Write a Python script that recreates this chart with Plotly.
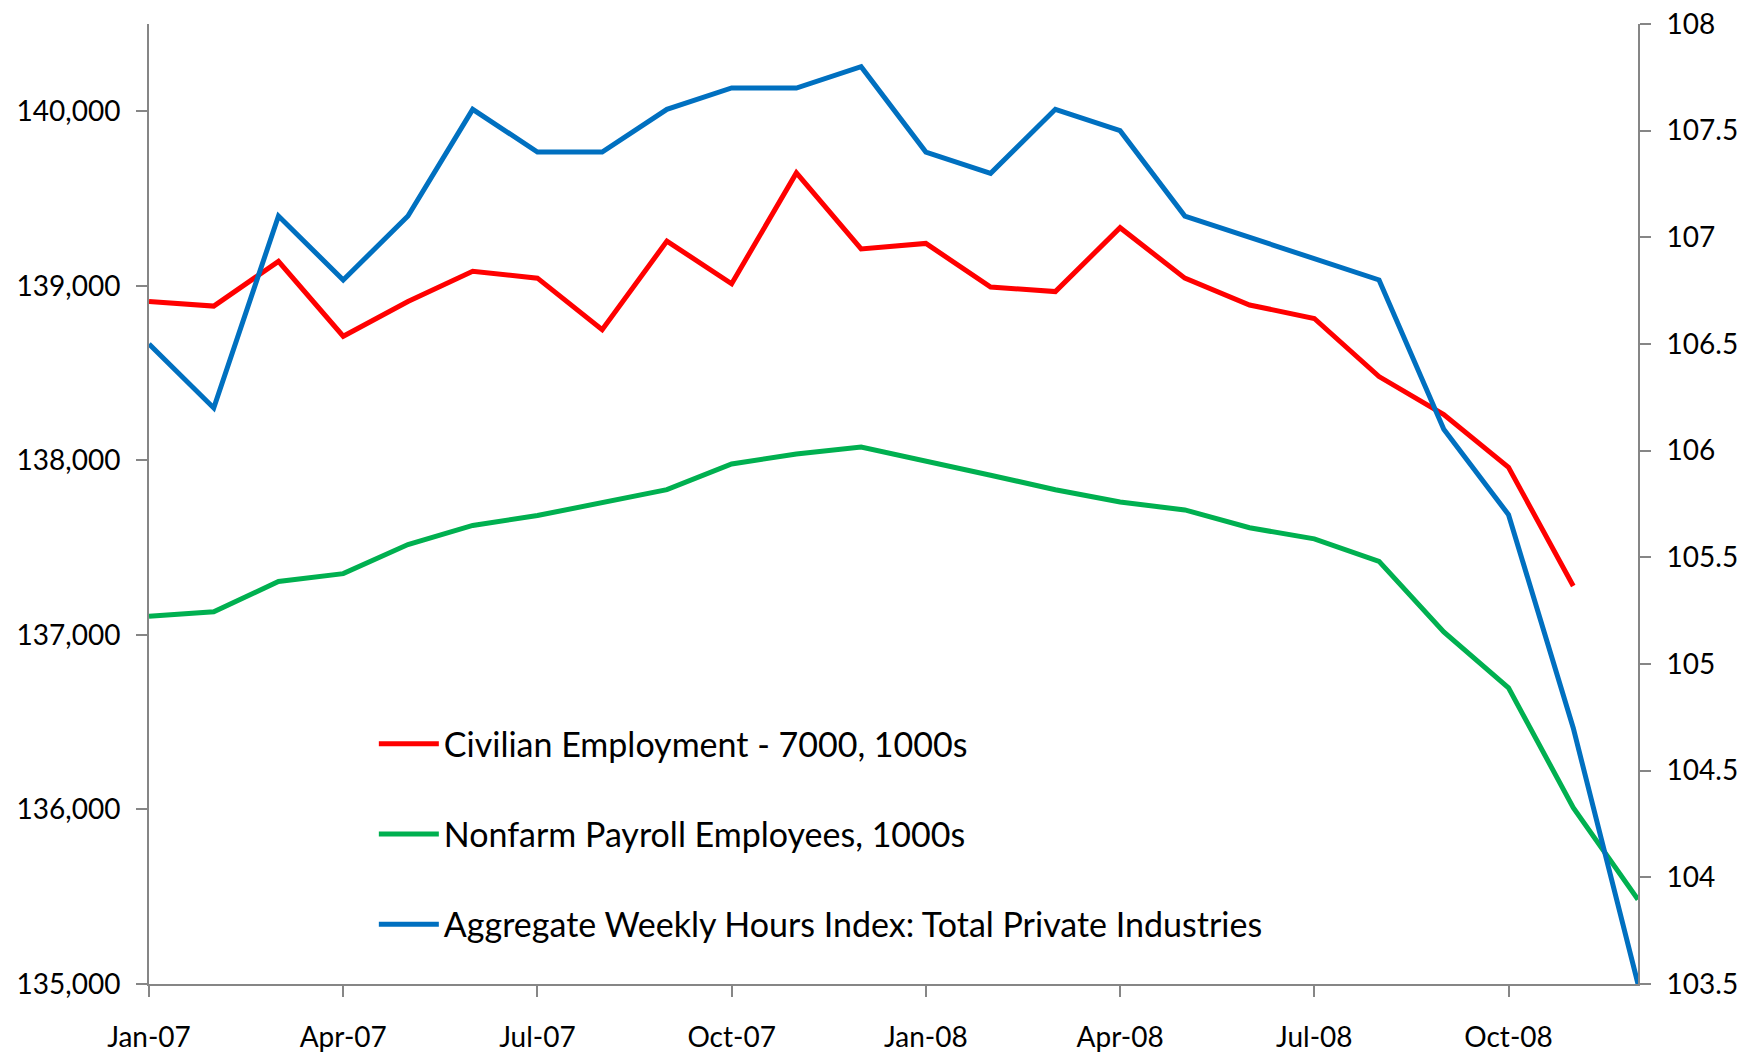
import plotly.graph_objects as go

# Monate Jan-07 bis Dec-08
months = ["Jan-07", "Feb-07", "Mar-07", "Apr-07", "May-07", "Jun-07", "Jul-07", "Aug-07",
          "Sep-07", "Oct-07", "Nov-07", "Dec-07", "Jan-08", "Feb-08", "Mar-08", "Apr-08",
          "May-08", "Jun-08", "Jul-08", "Aug-08", "Sep-08", "Oct-08", "Nov-08", "Dec-08"]
tick_labels = ["Jan-07", "Apr-07", "Jul-07", "Oct-07", "Jan-08", "Apr-08", "Jul-08", "Oct-08"]

# Civilian Employment - 7000 (1000s), Dec-08 fehlt
civilian = [138910, 138884, 139140, 138711, 138910, 139083, 139044, 138749,
            139256, 139012, 139647, 139211, 139243, 138993, 138967, 139333,
            139044, 138890, 138813, 138480, 138262, 137960, 137280, None]
# Nonfarm Payroll Employees (1000s)
nonfarm = [137107, 137133, 137306, 137351, 137518, 137627, 137684, 137755,
           137832, 137979, 138037, 138076, 137999, 137915, 137832, 137761,
           137716, 137614, 137550, 137421, 137017, 136697, 136010, 135484]
# Aggregate Weekly Hours Index (rechte Achse)
hours = [106.5, 106.2, 107.1, 106.8, 107.1, 107.6, 107.4, 107.4,
         107.6, 107.7, 107.7, 107.8, 107.4, 107.3, 107.6, 107.5,
         107.1, 107.0, 106.9, 106.8, 106.1, 105.7, 104.7, 103.5]

font_name = "Lato"
axis_grey = "#868686"

fig = go.Figure()
fig.add_trace(go.Scatter(x=months, y=civilian, mode="lines", name="Civilian Employment - 7000, 1000s",
                         line=dict(color="#FF0000", width=5), legendgroup="a"))
fig.add_trace(go.Scatter(x=months, y=nonfarm, mode="lines", name="Nonfarm Payroll Employees, 1000s",
                         line=dict(color="#00B050", width=5), legendgroup="b"))
fig.add_trace(go.Scatter(x=months, y=hours, mode="lines", yaxis="y2",
                         name="Aggregate Weekly Hours Index: Total Private Industries",
                         line=dict(color="#0070C0", width=5), legendgroup="c"))

# Seite hat 8px body-margin -> Ränder entsprechend verschoben
fig.update_layout(
    width=1758, height=1052,
    margin=dict(l=141, r=128, t=16, b=76),
    plot_bgcolor="white", paper_bgcolor="white",
    font=dict(family=font_name, size=28, color="black"),
    showlegend=True,
    legend=dict(x=0.151, y=0.28, xanchor="left", yanchor="top", itemwidth=60,
                font=dict(size=34), tracegroupgap=43, bgcolor="rgba(0,0,0,0)"),
    xaxis=dict(type="category", range=[0, 23], tickmode="array", tickvals=tick_labels,
               ticktext=tick_labels, showgrid=False, showline=True, linecolor=axis_grey,
               linewidth=2, ticks="outside", ticklen=11, tickcolor=axis_grey, tickwidth=2,
               ticklabelstandoff=16, zeroline=False, automargin=False),
    yaxis=dict(range=[135000, 140500], dtick=1000, tickformat=",", showgrid=False,
               showline=True, linecolor=axis_grey, linewidth=2, ticks="outside",
               ticklen=11, tickcolor=axis_grey, tickwidth=2, ticklabelstandoff=10,
               zeroline=False, automargin=False, ticklabeloverflow="allow"),
    yaxis2=dict(range=[103.5, 108], dtick=0.5, overlaying="y", side="right", showgrid=False,
                showline=True, linecolor=axis_grey, linewidth=2, ticks="outside",
                ticklen=11, tickcolor=axis_grey, tickwidth=2, ticklabelstandoff=10,
                zeroline=False, automargin=False, ticklabeloverflow="allow"),
)

fig.write_html("out.html")
